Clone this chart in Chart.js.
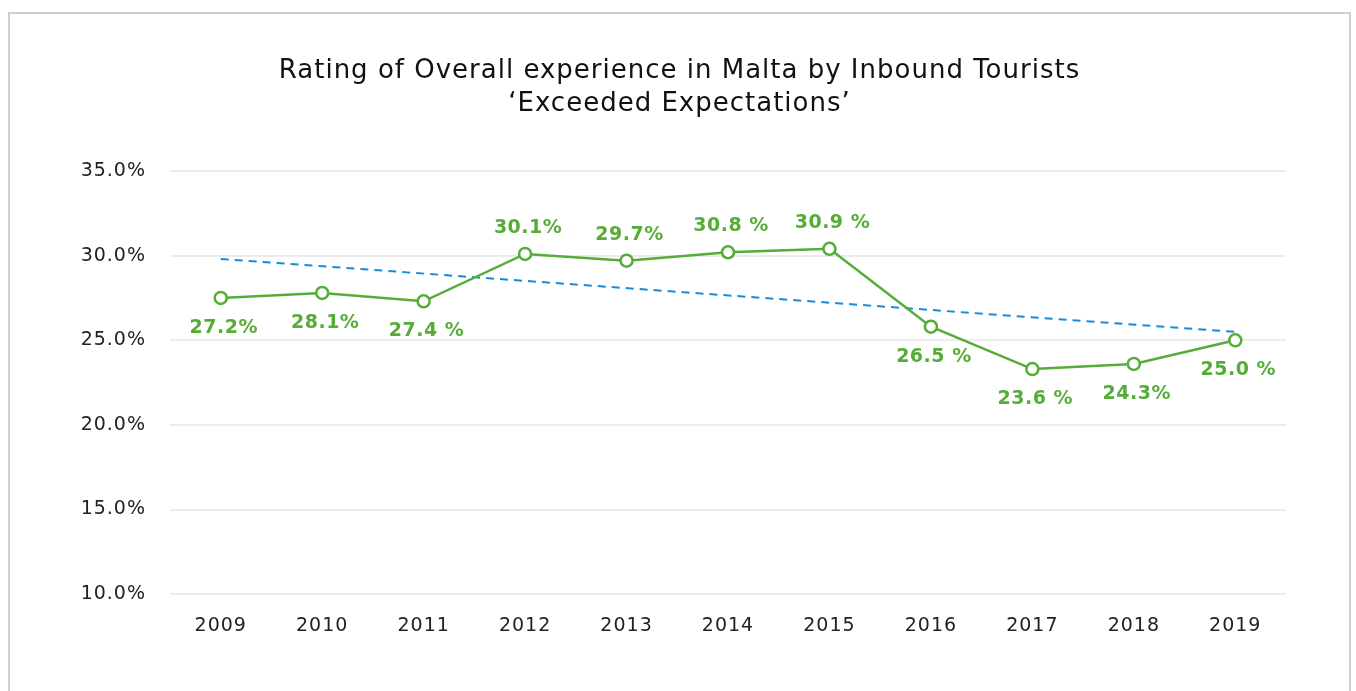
<!DOCTYPE html>
<html>
<head>
<meta charset="utf-8">
<script src="https://cdn.jsdelivr.net/npm/chart.js@4.4.1/dist/chart.umd.min.js"></script>
<style>
  html, body { margin: 0; padding: 0; background: #fff; }
  #frame {
    position: absolute; left: 8px; top: 12px; width: 1343px; height: 690px;
    border: 2px solid #cfcfcf; border-bottom: none; box-sizing: border-box;
  }
  #wrap { position: absolute; left: 0; top: 0; width: 1339px; height: 688px; }
</style>
</head>
<body>
<div id="frame"><div id="wrap"><canvas id="lineChart"></canvas></div></div>
<script>
const years = ['2009', '2010', '2011', '2012', '2013', '2014', '2015', '2016', '2017', '2018', '2019'];
// plotted values
const exceeded = [27.5, 27.8, 27.3, 30.1, 29.7, 30.2, 30.4, 25.8, 23.3, 23.6, 25.0];
// printed labels as shown next to each marker
const pointLabels = ['27.2%', '28.1%', '27.4 %', '30.1%', '29.7%', '30.8 %', '30.9 %', '26.5 %', '23.6 %', '24.3%', '25.0 %'];
// trend line end points
const trend = [29.8, null, null, null, null, null, null, null, null, null, 25.5];
const yTicks = [10, 15, 20, 25, 30, 35];

const FONT = '"DejaVu Sans", "Noto Sans", sans-serif';
const GREEN = '#55ad37';

document.addEventListener('DOMContentLoaded', function() {
    const ctx = document.getElementById('lineChart').getContext('2d');

    // the original font is wider, so space the letters out a little
    const spacing = {
        id: 'spacing',
        beforeUpdate(chart) { chart.ctx.letterSpacing = '1px'; },
        beforeDraw(chart) { chart.ctx.letterSpacing = '1px'; }
    };

    // draws the green value labels, above the marker for 2012-2015, below otherwise
    const valueLabels = {
        id: 'valueLabels',
        afterDatasetsDraw(chart) {
            const meta = chart.getDatasetMeta(0);
            const c = chart.ctx;
            c.save();
            c.font = 'bold 19px ' + FONT;
            c.letterSpacing = '0.5px';
            c.fillStyle = GREEN;
            c.textAlign = 'center';
            c.textBaseline = 'middle';
            meta.data.forEach((pt, i) => {
                const above = i >= 3 && i <= 6;
                c.fillText(pointLabels[i], pt.x + 3, above ? pt.y - 26 : pt.y + 30);
            });
            c.restore();
        }
    };

    new Chart(ctx, {
        type: 'line',
        data: {
            labels: years,
            datasets: [
                {
                    label: 'Exceeded Expectations',
                    data: exceeded,
                    borderColor: GREEN,
                    borderWidth: 2.5,
                    backgroundColor: '#ffffff',
                    pointBackgroundColor: '#ffffff',
                    pointBorderColor: GREEN,
                    pointBorderWidth: 2.5,
                    pointRadius: 6,
                    tension: 0,
                    order: 1
                },
                {
                    label: 'Trend',
                    data: trend,
                    borderColor: '#1a8ad8',
                    borderWidth: 2,
                    borderDash: [8, 6],
                    pointRadius: 0,
                    spanGaps: true,
                    order: 2
                }
            ]
        },
        options: {
            responsive: true,
            maintainAspectRatio: false,
            animation: false,
            layout: {
                padding: { top: 41, bottom: 53, left: 63, right: 63 }
            },
            plugins: {
                legend: { display: false },
                tooltip: { enabled: false },
                title: {
                    display: true,
                    text: ['Rating of Overall experience in Malta by Inbound Tourists', '\u2018Exceeded Expectations\u2019'],
                    color: '#111',
                    font: { family: FONT, size: 26, weight: 'normal', lineHeight: 1.25 },
                    padding: { top: 0, bottom: 51 }
                }
            },
            scales: {
                x: {
                    offset: true,
                    grid: { display: false },
                    border: { display: false },
                    ticks: {
                        color: '#222',
                        font: { family: FONT, size: 19 },
                        padding: 12
                    }
                },
                y: {
                    min: 10,
                    max: 35,
                    afterBuildTicks(scale) {
                        scale.ticks = yTicks.map(v => ({ value: v }));
                    },
                    afterFit(scale) {
                        scale.width = 97;
                    },
                    grid: { color: '#ececec', lineWidth: 2, drawTicks: false },
                    border: { display: false },
                    ticks: {
                        color: '#222',
                        font: { family: FONT, size: 19 },
                        padding: 24,
                        callback: v => v.toFixed(1) + '%'
                    }
                }
            }
        },
        plugins: [spacing, valueLabels]
    });
});
</script>
</body>
</html>
